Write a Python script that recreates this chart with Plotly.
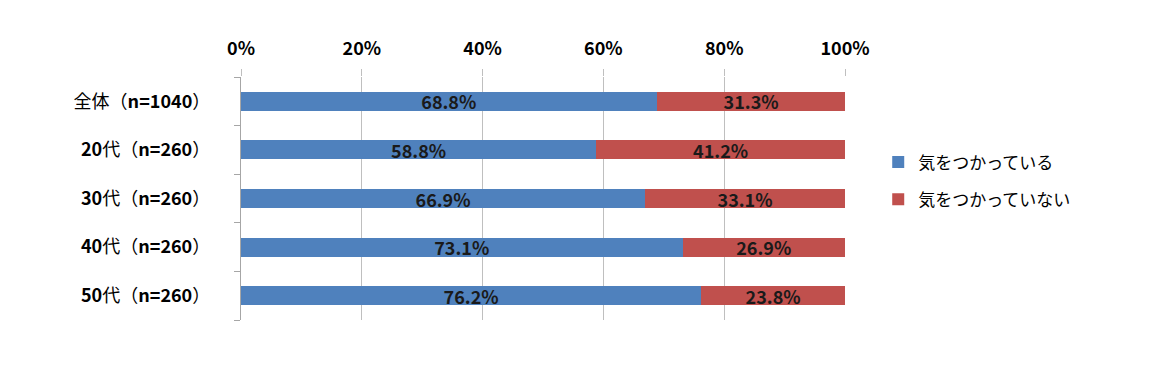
import plotly.graph_objects as go

categories = ["全体（n=1040）", "20代（n=260）", "30代（n=260）", "40代（n=260）", "50代（n=260）"]
category_labels = ["全体（<b>n=1040</b>）", "<b>20</b>代（<b>n=260</b>）", "<b>30</b>代（<b>n=260</b>）",
                   "<b>40</b>代（<b>n=260</b>）", "<b>50</b>代（<b>n=260</b>）"]
series_names = ["気をつかっている", "気をつかっていない"]
care = [68.8, 58.8, 66.9, 73.1, 76.2]
not_care = [31.3, 41.2, 33.1, 26.9, 23.8]
x_ticks = [0, 20, 40, 60, 80, 100]
x_tick_labels = ["0%", "20%", "40%", "60%", "80%", "100%"]

colors = ["#4F81BD", "#C0504D"]
FONT = "Noto Sans CJK JP"

fig = go.Figure()
for i, (name, vals, col) in enumerate(zip(series_names, [care, not_care], colors)):
    fig.add_trace(go.Bar(
        y=categories, x=vals, name=name, orientation="h",
        legendgroup=f"g{i}",
        marker=dict(color=col, line=dict(width=0)),
        texttemplate="%{x:.1f}%", textposition="inside",
        insidetextanchor="middle",
        textfont=dict(family=FONT, size=18, color="#1a1a1a", weight="bold"),
        hoverinfo="skip",
    ))

# page body has an 8px default margin, so margins are offset by 8px
fig.update_layout(
    barmode="stack",
    bargap=0.61,
    width=1144, height=368,
    margin=dict(l=233, r=307, t=69, b=56),
    paper_bgcolor="white", plot_bgcolor="white",
    font=dict(family=FONT, color="#000000"),
    legend=dict(x=1.055, y=0.572, xanchor="left", yanchor="middle",
                font=dict(family=FONT, size=17, color="#000"),
                tracegroupgap=12, itemwidth=30, traceorder="grouped",
                bgcolor="rgba(0,0,0,0)"),
    uniformtext=dict(mode="show", minsize=10),
)
fig.update_xaxes(
    side="top", range=[0, 100], tickvals=x_ticks, ticktext=x_tick_labels,
    showgrid=True, gridcolor="#BFBFBF", gridwidth=1.3,
    ticks="outside", ticklen=7, tickcolor="#BFBFBF", tickwidth=1.3,
    showline=False, zeroline=False, automargin=False,
    tickfont=dict(family=FONT, size=18, color="#000", weight="bold"),
    ticklabelstandoff=7,
)
fig.update_yaxes(
    categoryorder="array", categoryarray=categories, autorange="reversed",
    tickvals=categories, ticktext=category_labels,
    showline=True, linecolor="#A6A6A6", linewidth=1.3,
    ticks="outside", tickson="boundaries", ticklen=6, tickcolor="#A6A6A6", tickwidth=1.3,
    showgrid=False, automargin=False,
    tickfont=dict(family=FONT, size=18, color="#000"),
    ticklabelstandoff=26,
)

fig.write_html("out.html")
